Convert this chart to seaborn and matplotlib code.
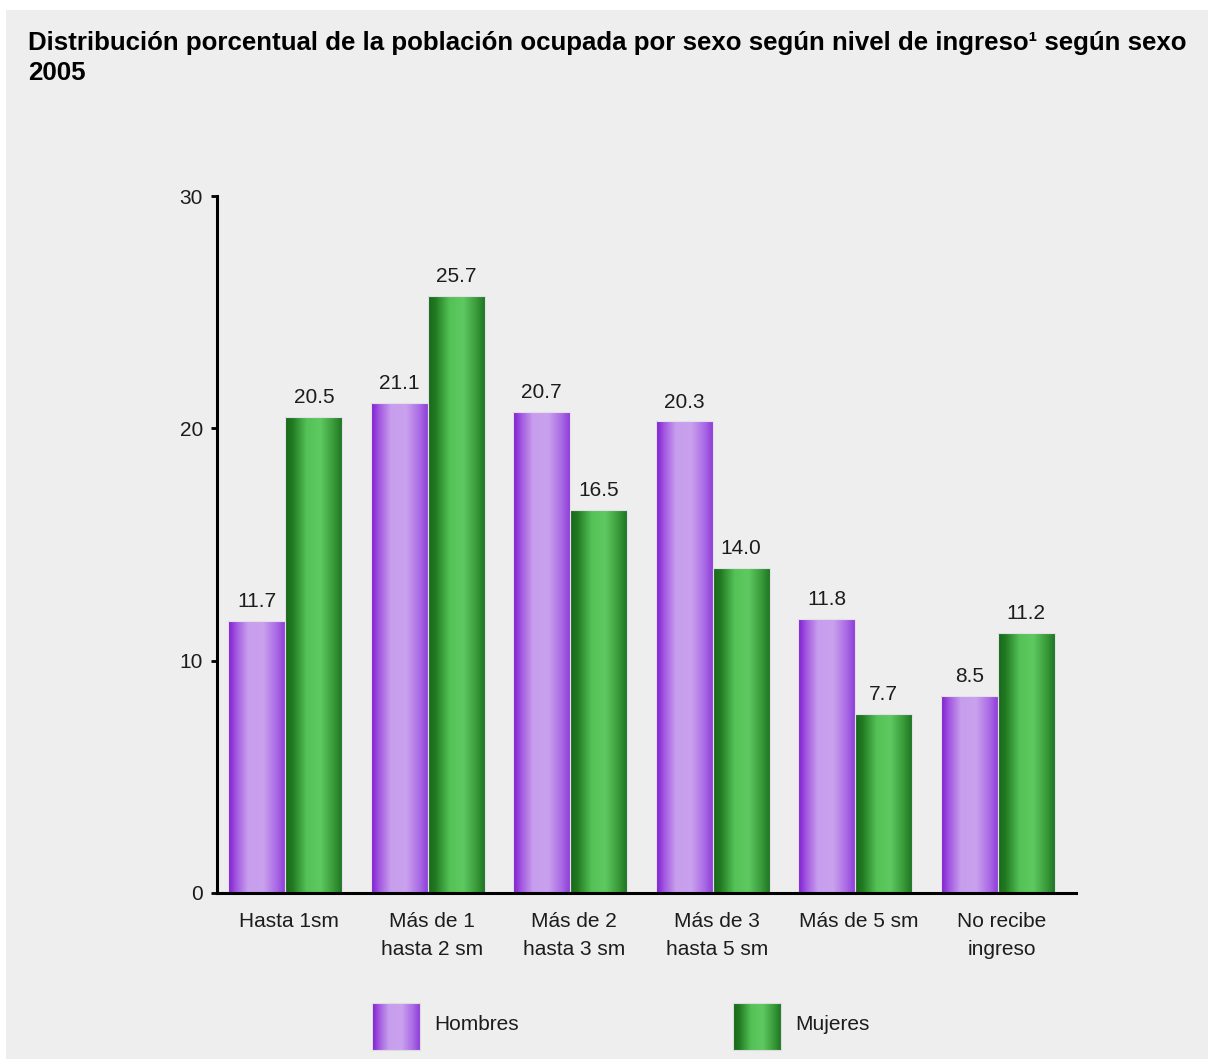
import numpy as np
import pandas as pd
import matplotlib
matplotlib.use("Agg")
import matplotlib.pyplot as plt
from matplotlib.colors import LinearSegmentedColormap
from matplotlib.patches import Rectangle
from matplotlib.transforms import ScaledTranslation
import seaborn as sns

# Income levels (sm = salario mínimo)
categorias = ["Hasta 1sm", "Más de 1\nhasta 2 sm", "Más de 2\nhasta 3 sm",
              "Más de 3\nhasta 5 sm", "Más de 5 sm", "No recibe\ningreso"]
hombres = [11.7, 21.1, 20.7, 20.3, 11.8, 8.5]
mujeres = [20.5, 25.7, 16.5, 14.0, 7.7, 11.2]
series = ["Hombres", "Mujeres"]
yticks = [0, 10, 20, 30]

df = pd.DataFrame({
    "nivel": categorias * 2,
    "sexo": ["Hombres"] * len(categorias) + ["Mujeres"] * len(categorias),
    "pct": hombres + mujeres,
})

sns.set_theme(style="white")
plt.rcParams["font.family"] = ["Liberation Sans", "DejaVu Sans"]

TEXT = "#1c1c1c"
BG = "#eeeeee"

# Cylinder-like shading for each series
cmaps = {
    "Hombres": LinearSegmentedColormap.from_list("hombres", [
        (0.00, (0.49, 0.11, 0.81)),
        (0.15, (0.64, 0.35, 0.88)),
        (0.35, (0.78, 0.62, 0.93)),
        (0.62, (0.79, 0.63, 0.93)),
        (0.85, (0.67, 0.42, 0.90)),
        (1.00, (0.56, 0.24, 0.85)),
    ]),
    "Mujeres": LinearSegmentedColormap.from_list("mujeres", [
        (0.00, (0.09, 0.40, 0.10)),
        (0.13, (0.13, 0.48, 0.13)),
        (0.38, (0.33, 0.76, 0.34)),
        (0.62, (0.37, 0.79, 0.38)),
        (0.86, (0.22, 0.60, 0.22)),
        (1.00, (0.12, 0.46, 0.14)),
    ]),
}
grad = np.linspace(0, 1, 256).reshape(1, -1)

W, H = 1208, 1059
fig = plt.figure(figsize=(W / 100, H / 100), dpi=100, facecolor="white")
fig.patches.append(Rectangle((6 / W, 0), 1 - 6 / W, 1 - 10 / H,
                             transform=fig.transFigure, facecolor=BG,
                             edgecolor="none", zorder=-10))

ax = fig.add_axes([217 / W, (H - 893) / H, (1076 - 217) / W, (893 - 196) / H])
ax.set_facecolor(BG)

sns.barplot(data=df, x="nivel", y="pct", hue="sexo", hue_order=series,
            palette=["#b07ce6", "#46b046"], width=0.8, gap=0,
            legend=False, ax=ax)

for cont, name in zip(ax.containers, series):
    for bar in cont:
        x0, y0 = bar.get_x(), bar.get_y()
        w, h = bar.get_width(), bar.get_height()
        im = ax.imshow(grad, cmap=cmaps[name], aspect="auto",
                       extent=[x0, x0 + w, y0, y0 + h], zorder=1,
                       interpolation="bilinear")
        im.set_clip_path(bar)
        bar.set_facecolor("none")
        bar.set_edgecolor("#e4e0ea")
        bar.set_linewidth(0.8)
        bar.set_zorder(2)
    ax.bar_label(cont, fmt="%.1f", padding=7, fontsize=15, color=TEXT)

ax.set_xlim(-0.48, 5.55)
ax.set_ylim(0, 30)
ax.set_yticks(yticks)
ax.set_xlabel("")
ax.set_ylabel("")

for s in ["top", "right"]:
    ax.spines[s].set_visible(False)
for s in ["left", "bottom"]:
    ax.spines[s].set_color("black")
    ax.spines[s].set_linewidth(2.2)
    ax.spines[s].set_zorder(3)

ax.tick_params(axis="y", length=4, width=2, color="black", pad=6,
               labelsize=15, labelcolor=TEXT, left=True)
ax.tick_params(axis="x", length=0, pad=14, labelsize=15, labelcolor=TEXT)
shift = ScaledTranslation(4 / 100, 0, fig.dpi_scale_trans)
for lab in ax.get_xticklabels():
    lab.set_linespacing(1.6)
    lab.set_transform(lab.get_transform() + shift)

fig.text(28 / W, 1 - 31 / H,
         "Distribución porcentual de la población ocupada por sexo según nivel de ingreso¹ según sexo\n2005",
         ha="left", va="top", fontsize=18.6, fontweight="bold", color="black",
         linespacing=1.3)

# Legend swatches along the bottom
legend_items = [("Hombres", 372, 434), ("Mujeres", 733, 795)]
for name, sx, tx in legend_items:
    sax = fig.add_axes([sx / W, (H - 1050) / H, 48 / W, 47 / H])
    sax.imshow(grad, cmap=cmaps[name], aspect="auto", interpolation="bilinear")
    sax.set_xticks([])
    sax.set_yticks([])
    for sp in sax.spines.values():
        sp.set_color("#dcdcdc")
        sp.set_linewidth(0.8)
    fig.text(tx / W, (H - 1024) / H, name, ha="left", va="center",
             fontsize=15, color=TEXT)

fig.savefig("out.png", dpi=100, facecolor=fig.get_facecolor())
